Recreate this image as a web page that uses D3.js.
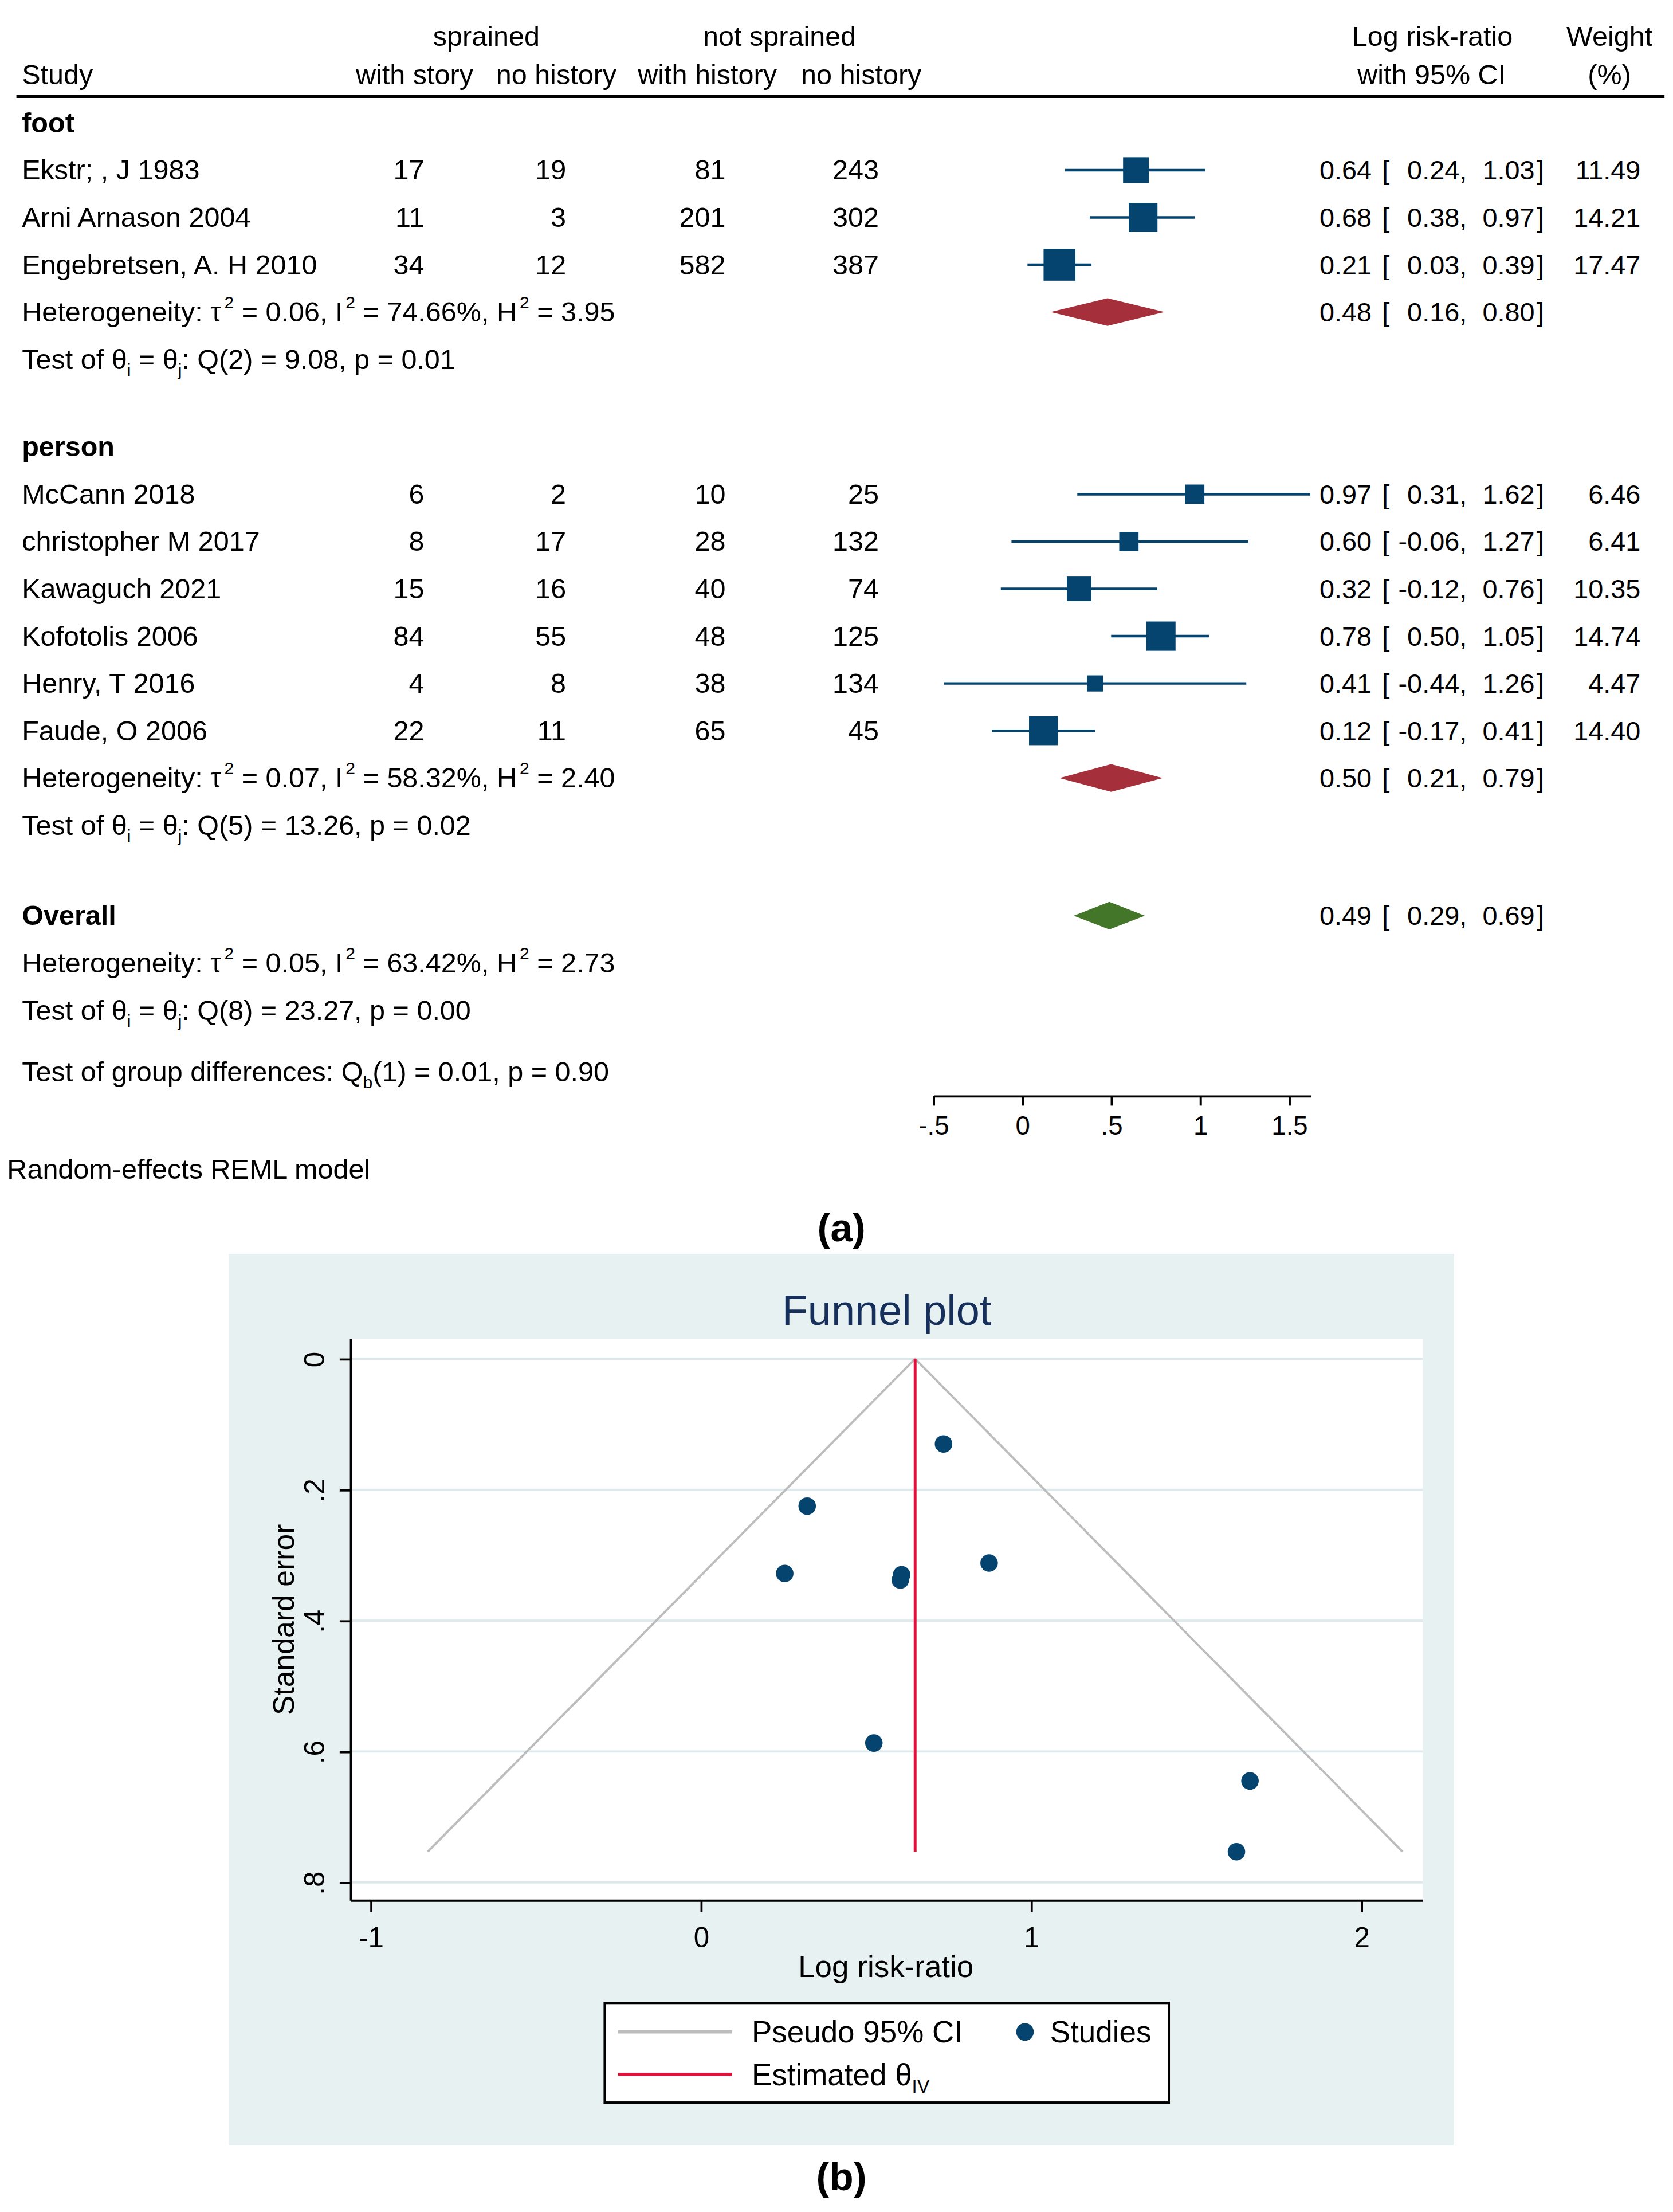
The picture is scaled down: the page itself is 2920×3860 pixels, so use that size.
<!DOCTYPE html>
<html>
<head>
<meta charset="utf-8">
<script src="https://cdn.jsdelivr.net/npm/d3@7"></script>
<style>
  html, body { margin: 0; padding: 0; background: #fff; }
  svg { display: block; }
  text { font-family: "Liberation Sans", Arial, sans-serif; fill: #000; }
</style>
</head>
<body>
<svg id="chart"></svg>
<script>
// ---- forest plot data (a) ----
const studies = ['Ekstr; , J 1983', 'Arni Arnason 2004', 'Engebretsen, A. H 2010',
  'McCann 2018', 'christopher M 2017', 'Kawaguch 2021', 'Kofotolis 2006', 'Henry, T 2016', 'Faude, O 2006'];
const studyGroup = ['foot', 'foot', 'foot', 'person', 'person', 'person', 'person', 'person', 'person'];
const sprainedWithHistory = [17, 11, 34, 6, 8, 15, 84, 4, 22];
const sprainedNoHistory = [19, 3, 12, 2, 17, 16, 55, 8, 11];
const notSprainedWithHistory = [81, 201, 582, 10, 28, 40, 48, 38, 65];
const notSprainedNoHistory = [243, 302, 387, 25, 132, 74, 125, 134, 45];
const logRR = [0.64, 0.68, 0.21, 0.97, 0.60, 0.32, 0.78, 0.41, 0.12];
const ciLow = [0.24, 0.38, 0.03, 0.31, -0.06, -0.12, 0.50, -0.44, -0.17];
const ciHigh = [1.03, 0.97, 0.39, 1.62, 1.27, 0.76, 1.05, 1.26, 0.41];
const weights = [11.49, 14.21, 17.47, 6.46, 6.41, 10.35, 14.74, 4.47, 14.40];

const groups = ['foot', 'person'];
const pooledLabel = ['foot', 'person', 'Overall'];
const pooledEst = [0.48, 0.50, 0.49];
const pooledLow = [0.16, 0.21, 0.29];
const pooledHigh = [0.80, 0.79, 0.69];
const tau2 = [0.06, 0.07, 0.05];
const iSquared = [74.66, 58.32, 63.42];
const hSquared = [3.95, 2.40, 2.73];
const qDf = [2, 5, 8];
const qStat = [9.08, 13.26, 23.27];
const qP = [0.01, 0.02, 0.00];
const groupDiff = {df: 1, q: 0.01, p: 0.90};
const forestTicks = [-0.5, 0, 0.5, 1, 1.5];

// ---- funnel plot data (b) ----
const funnelLogRR = [0.735, 0.322, 0.254, 0.608, 0.604, 0.873, 0.524, 1.663, 1.622];
const funnelSE = [0.130, 0.225, 0.328, 0.330, 0.338, 0.312, 0.587, 0.645, 0.753];
const thetaIV = 0.649;
const funnelXTicks = [-1, 0, 1, 2];
const funnelYTicks = [0, 0.2, 0.4, 0.6, 0.8];

const W = 1185, H = 1566.5;
const navy = '#04446f', maroon = '#a5303b', green = '#44762a';

const svg = d3.select('#chart')
  .attr('width', 2920)
  .attr('height', 3860)
  .attr('viewBox', `0 0 ${W} ${H}`);
svg.append('rect').attr('width', W).attr('height', H).attr('fill', '#fff');

const f2 = v => d3.format('.2f')(v).replace('\u2212', '-');
const shortNum = v => v === 0 ? '0' : String(v).replace(/^(-?)0\./, '$1.');

// text with sub/superscripts: parts = [[str, kind]], kind in {undefined,'sup','sub'}
function richText(g, x, y, parts, size) {
  const t = g.append('text').attr('x', x).attr('y', y).attr('font-size', size);
  let off = 0;
  parts.forEach(([s, kind]) => {
    const target = kind === 'sup' ? -0.47 * size : kind === 'sub' ? 0.25 * size : 0;
    t.append('tspan')
      .attr('dy', target - off)
      .attr('dx', kind === 'sup' ? 2 : 0)
      .attr('font-size', kind ? size * 0.62 : size)
      .text(s);
    off = target;
  });
  return t;
}

// ================= (a) forest plot =================
const fs = 19;      // numbers
const ls = 19.7;    // left-hand labels
const fg = svg.append('g');
const x = d3.scaleLinear().domain([-0.5, d3.max(ciHigh)]).range([661, 661 + 126 * (d3.max(ciHigh) + 0.5)]);
const side = d3.scaleSqrt().domain([0, 20]).range([0, 5.4 * Math.sqrt(20)]);

// headers
const colX = [300.5, 401, 514, 622.5];
const colHead = [293.6, 394, 501, 610];
fg.append('text').attr('x', 344.5).attr('y', 32.6).attr('text-anchor', 'middle').attr('font-size', ls).text('sprained');
fg.append('text').attr('x', 552.2).attr('y', 32.6).attr('text-anchor', 'middle').attr('font-size', ls).text('not sprained');
fg.append('text').attr('x', 15.5).attr('y', 59.8).attr('font-size', ls).text('Study');
['with story', 'no history', 'with history', 'no history'].forEach((s, i) => {
  fg.append('text').attr('x', colHead[i]).attr('y', 59.8).attr('text-anchor', 'middle').attr('font-size', ls).text(s);
});
fg.append('text').attr('x', 1014.6).attr('y', 32.6).attr('text-anchor', 'middle').attr('font-size', ls).text('Log risk-ratio');
fg.append('text').attr('x', 1014).attr('y', 59.8).attr('text-anchor', 'middle').attr('font-size', ls).text('with 95% CI');
fg.append('text').attr('x', 1140).attr('y', 32.6).attr('text-anchor', 'middle').attr('font-size', ls).text('Weight');
fg.append('text').attr('x', 1140).attr('y', 59.8).attr('text-anchor', 'middle').attr('font-size', ls).text('(%)');
fg.append('line').attr('x1', 11.6).attr('x2', 1179).attr('y1', 68.3).attr('y2', 68.3)
  .attr('stroke', '#000').attr('stroke-width', 2.2);

// row layout: pooled diamond sits on the heterogeneity line
const rows = [];
let y = 87;
const step = 33.5;
groups.forEach((grp, gi) => {
  rows.push({type: 'group', label: grp, y});
  studies.forEach((s, i) => {
    if (studyGroup[i] !== grp) return;
    y += step;
    rows.push({type: 'study', i, y});
  });
  y += step; rows.push({type: 'pooled', k: gi, y}); rows.push({type: 'het', k: gi, y});
  y += step; rows.push({type: 'test', k: gi, y});
  y += gi === 0 ? 62 : 64;
});
rows.push({type: 'group', label: 'Overall', y});
rows.push({type: 'pooled', k: 2, y});
y += step; rows.push({type: 'het', k: 2, y});
y += step; rows.push({type: 'test', k: 2, y});
y += 43.5; rows.push({type: 'diff', y});

const base = 6.7;
function ciText(cy, est, lo, hi) {
  fg.append('text').attr('x', 971.6).attr('y', cy + base).attr('text-anchor', 'end').attr('font-size', fs).text(f2(est));
  fg.append('text').attr('x', 979).attr('y', cy + base).attr('font-size', fs).text('[');
  fg.append('text').attr('x', 1039).attr('y', cy + base).attr('text-anchor', 'end').attr('font-size', fs).text(f2(lo) + ',');
  fg.append('text').attr('x', 1087).attr('y', cy + base).attr('text-anchor', 'end').attr('font-size', fs).text(f2(hi));
  fg.append('text').attr('x', 1088.4).attr('y', cy + base).attr('font-size', fs).text(']');
}

rows.forEach(r => {
  const ty = r.y + base;
  if (r.type === 'group') {
    fg.append('text').attr('x', 15.5).attr('y', ty).attr('font-size', ls).attr('font-weight', 'bold').text(r.label);
  } else if (r.type === 'study') {
    const i = r.i;
    fg.append('text').attr('x', 15.5).attr('y', ty).attr('font-size', ls).text(studies[i]);
    [sprainedWithHistory, sprainedNoHistory, notSprainedWithHistory, notSprainedNoHistory].forEach((arr, c) => {
      fg.append('text').attr('x', colX[c]).attr('y', ty).attr('text-anchor', 'end').attr('font-size', ls).text(arr[i]);
    });
    fg.append('line').attr('x1', x(ciLow[i])).attr('x2', x(ciHigh[i])).attr('y1', r.y).attr('y2', r.y)
      .attr('stroke', navy).attr('stroke-width', 1.8);
    const s = side(weights[i]);
    fg.append('rect').attr('x', x(logRR[i]) - s / 2).attr('y', r.y - s / 2).attr('width', s).attr('height', s)
      .attr('fill', navy);
    ciText(r.y, logRR[i], ciLow[i], ciHigh[i]);
    fg.append('text').attr('x', 1162).attr('y', ty).attr('text-anchor', 'end').attr('font-size', fs).text(f2(weights[i]));
  } else if (r.type === 'pooled') {
    const k = r.k, h = 9.8;
    const pts = [[x(pooledLow[k]), r.y], [x(pooledEst[k]), r.y - h], [x(pooledHigh[k]), r.y], [x(pooledEst[k]), r.y + h]];
    fg.append('polygon').attr('points', pts.map(p => p.join(',')).join(' '))
      .attr('fill', k === 2 ? green : maroon);
    ciText(r.y, pooledEst[k], pooledLow[k], pooledHigh[k]);
  } else if (r.type === 'het') {
    const k = r.k;
    richText(fg, 15.5, ty, [
      ['Heterogeneity: \u03c4'], ['2', 'sup'], [` = ${f2(tau2[k])}, I`], ['2', 'sup'],
      [` = ${f2(iSquared[k])}%, H`], ['2', 'sup'], [` = ${f2(hSquared[k])}`]
    ], ls);
  } else if (r.type === 'test') {
    const k = r.k;
    richText(fg, 15.5, ty, [
      ['Test of \u03b8'], ['i', 'sub'], [' = \u03b8'], ['j', 'sub'],
      [`: Q(${qDf[k]}) = ${f2(qStat[k])}, p = ${f2(qP[k])}`]
    ], ls);
  } else if (r.type === 'diff') {
    richText(fg, 15.5, ty, [
      ['Test of group differences: Q'], ['b', 'sub'],
      [`(${groupDiff.df}) = ${f2(groupDiff.q)}, p = ${f2(groupDiff.p)}`]
    ], ls);
  }
});

// forest axis
const fAxis = fg.append('g').attr('transform', 'translate(0,776)')
  .call(d3.axisBottom(x).tickValues(forestTicks).tickFormat(shortNum).tickSize(7).tickSizeOuter(0));
fAxis.select('.domain').attr('stroke-width', 1.6);
fAxis.selectAll('.tick line').attr('stroke-width', 1.6);
fAxis.selectAll('.tick text').attr('y', 27.7).attr('dy', 0).attr('font-size', 18.5)
  .attr('font-family', '"Liberation Sans", Arial, sans-serif').attr('fill', '#000');

fg.append('text').attr('x', 5).attr('y', 834.8).attr('font-size', ls).text('Random-effects REML model');

svg.append('text').attr('x', 596).attr('y', 879).attr('text-anchor', 'middle')
  .attr('font-family', '"Liberation Serif", "Times New Roman", serif').attr('font-weight', 'bold')
  .attr('font-size', 28).text('(a)');

// ================= (b) funnel plot =================
const bg = svg.append('g');
const panel = {x: 162, y: 888, w: 868, h: 631};
const plot = {l: 248.6, r: 1007.8, t: 948, b: 1346};
bg.append('rect').attr('x', panel.x).attr('y', panel.y).attr('width', panel.w).attr('height', panel.h)
  .attr('fill', '#e7f1f2');
bg.append('rect').attr('x', plot.l).attr('y', plot.t).attr('width', plot.r - plot.l).attr('height', plot.b - plot.t)
  .attr('fill', '#fff');

const fx = d3.scaleLinear().domain([-1, 2]).range([262.5, 964.2]);
const fy = d3.scaleLinear().domain([0, 0.8]).range([962.3, 1333.1]);

bg.append('text').attr('x', 628).attr('y', 938.3).attr('text-anchor', 'middle').attr('font-size', 30)
  .style('fill', '#172f5b').text('Funnel plot');

// gridlines
bg.append('g').selectAll('line').data(funnelYTicks).join('line')
  .attr('x1', plot.l).attr('x2', plot.r).attr('y1', d => fy(d)).attr('y2', d => fy(d))
  .attr('stroke', '#dde9ec').attr('stroke-width', 1.5);

// pseudo 95% CI
const seMax = d3.max(funnelSE);
const funnelPath = [[thetaIV - 1.96 * seMax, seMax], [thetaIV, 0], [thetaIV + 1.96 * seMax, seMax]];
bg.append('path')
  .attr('d', d3.line().x(d => fx(d[0])).y(d => fy(d[1]))(funnelPath))
  .attr('fill', 'none').attr('stroke', '#bdbdbd').attr('stroke-width', 1.6);
bg.append('line').attr('x1', fx(thetaIV)).attr('x2', fx(thetaIV)).attr('y1', fy(0)).attr('y2', fy(seMax))
  .attr('stroke', '#e3103a').attr('stroke-width', 2);

bg.append('g').selectAll('circle').data(funnelLogRR).join('circle')
  .attr('cx', d => fx(d)).attr('cy', (d, i) => fy(funnelSE[i])).attr('r', 6.2)
  .attr('fill', navy);

// axes
const xAx = bg.append('g').attr('transform', `translate(0,${plot.b})`)
  .call(d3.axisBottom(fx).tickValues(funnelXTicks).tickFormat(v => String(v)).tickSize(8).tickSizeOuter(0));
xAx.select('.domain').remove();
xAx.selectAll('.tick line').attr('stroke-width', 1.5);
xAx.selectAll('.tick text').attr('y', 32.9).attr('dy', 0).attr('font-size', 20)
  .attr('font-family', '"Liberation Sans", Arial, sans-serif').attr('fill', '#000');
bg.append('line').attr('x1', plot.l).attr('x2', plot.r).attr('y1', plot.b).attr('y2', plot.b)
  .attr('stroke', '#000').attr('stroke-width', 1.6);

const yAx = bg.append('g').attr('transform', `translate(${plot.l},0)`)
  .call(d3.axisLeft(fy).tickValues(funnelYTicks).tickFormat(shortNum).tickSize(8).tickSizeOuter(0));
yAx.select('.domain').remove();
yAx.selectAll('.tick line').attr('stroke-width', 1.5);
yAx.selectAll('.tick text').attr('transform', 'rotate(-90)').attr('x', 0).attr('y', -18.8).attr('dy', 0)
  .attr('text-anchor', 'middle').attr('font-size', 20)
  .attr('font-family', '"Liberation Sans", Arial, sans-serif').attr('fill', '#000');
bg.append('line').attr('x1', plot.l).attr('x2', plot.l).attr('y1', plot.t).attr('y2', plot.b)
  .attr('stroke', '#000').attr('stroke-width', 1.6);

bg.append('text').attr('transform', 'translate(208.3,1147) rotate(-90)').attr('text-anchor', 'middle')
  .attr('font-size', 21).text('Standard error');
bg.append('text').attr('x', 627.5).attr('y', 1400).attr('text-anchor', 'middle')
  .attr('font-size', 21.5).text('Log risk-ratio');

// legend
const lg = bg.append('g');
lg.append('rect').attr('x', 428.3).attr('y', 1418.5).attr('width', 399.6).attr('height', 70.5)
  .attr('fill', '#fff').attr('stroke', '#000').attr('stroke-width', 1.6);
lg.append('line').attr('x1', 437.8).attr('x2', 518.5).attr('y1', 1439).attr('y2', 1439)
  .attr('stroke', '#bdbdbd').attr('stroke-width', 2.2);
lg.append('text').attr('x', 532.4).attr('y', 1446.5).attr('font-size', 21.5).text('Pseudo 95% CI');
lg.append('circle').attr('cx', 726).attr('cy', 1439).attr('r', 6.2).attr('fill', navy);
lg.append('text').attr('x', 743.8).attr('y', 1446.5).attr('font-size', 21.5).text('Studies');
lg.append('line').attr('x1', 437.8).attr('x2', 518.5).attr('y1', 1469).attr('y2', 1469)
  .attr('stroke', '#e3103a').attr('stroke-width', 2.2);
richText(lg, 532.4, 1476.8, [['Estimated \u03b8'], ['IV', 'sub']], 21.5);

svg.append('text').attr('x', 596).attr('y', 1551).attr('text-anchor', 'middle')
  .attr('font-family', '"Liberation Serif", "Times New Roman", serif').attr('font-weight', 'bold')
  .attr('font-size', 28).text('(b)');
</script>
</body>
</html>
